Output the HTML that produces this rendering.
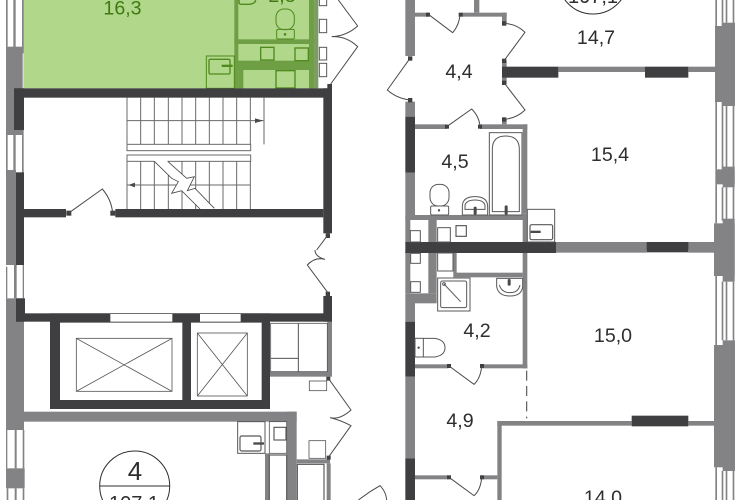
<!DOCTYPE html>
<html><head><meta charset="utf-8"><style>
html,body{margin:0;padding:0;background:#fff;width:741px;height:500px;overflow:hidden}
svg{display:block}
text{font-family:"Liberation Sans",sans-serif;font-size:19.6px;fill:#2e2e2e;text-anchor:middle}
.g{fill:#838386}.d{fill:#3f3f41}
.l{fill:none;stroke:#4a4a4c;stroke-width:3}
.t{fill:none;stroke:#4a4a4c;stroke-width:3.5}
.gl{fill:none;stroke:#4f8a1e;stroke-width:4}
</style></head><body>
<svg width="741" height="500" viewBox="0 0 741 500" xmlns="http://www.w3.org/2000/svg">
<!-- Group A -->
<g transform="scale(.33333)">
<rect x="70" y="0" width="880" height="265" fill="#b1d78b"/>
<g fill="#6f9f44">
<rect x="703" y="0" width="12" height="265"/><rect x="927" y="0" width="16" height="265"/>
<rect x="703" y="118" width="240" height="14"/><rect x="703" y="182" width="240" height="28"/>
<rect x="715" y="210" width="15" height="55"/>
</g>
<rect x="943" y="0" width="12" height="265" fill="#7f9a68"/>
<path class="gl" d="M717 0V6Q717 13 725 13H745Q765 13 767 0"/>
<rect class="gl" x="828" y="27" width="55" height="62" rx="24" style="stroke-width:3"/>
<rect class="gl" x="830" y="88" width="53" height="29" rx="4" style="stroke-width:3"/>
<circle cx="855" cy="103" r="4" fill="#4f8a1e"/>
<g class="gl" style="stroke-width:4"><rect x="782" y="142" width="40" height="38"/><rect x="885" y="144" width="40" height="38"/><rect x="828" y="212" width="57" height="52"/>
<rect x="619" y="168" width="84" height="97" style="stroke-width:3"/><rect x="627" y="178" width="63" height="44" rx="4"/></g>
<rect x="665" y="194" width="33" height="7" fill="#4f8a1e"/>
<g fill="#fff" stroke="#58585a" stroke-width="3"><rect x="958" y="-3" width="22" height="20"/><rect x="958" y="58" width="22" height="40"/><rect x="958" y="142" width="22" height="38"/><rect x="958" y="190" width="22" height="40"/></g>
<path class="l" d="M990 255L1073 140Q1040 108 995 110Q1040 108 1073 78L1015 0"/>
<!-- left wall -->
<rect class="g" x="18" y="140" width="50" height="265"/>
<rect class="g" x="18" y="0" width="5" height="140"/><rect class="g" x="40" y="0" width="7" height="160"/><rect class="g" x="66" y="0" width="5" height="160"/>
<rect class="g" x="18" y="405" width="5" height="105"/><rect class="g" x="40" y="390" width="7" height="130"/><rect class="g" x="66" y="390" width="5" height="130"/>
<rect class="g" x="18" y="510" width="30" height="240"/>
<g class="d">
<rect x="42" y="265" width="954" height="28"/><rect x="42" y="265" width="30" height="125"/>
<rect x="970" y="265" width="26" height="435"/><rect x="982" y="252" width="14" height="16"/>
<rect x="48" y="517" width="24" height="233"/>
<rect x="72" y="627" width="126" height="25"/><rect x="346" y="627" width="624" height="25"/>
<rect x="199" y="632" width="15" height="15"/><rect x="331" y="632" width="15" height="15"/><rect x="977" y="700" width="13" height="14"/>
</g>
<path class="l" d="M205 640L307 567Q335 600 338 640M982 707L950 750"/>
<!-- stairs -->
<g fill="none" stroke="#6a6a6c" stroke-width="3">
<path d="M381 293V435M422 293V433M463 293V433M505 293V433M546 293V433M587 293V433M628 293V433M669 293V433M710 293V433M751 293V433M792 293V433M381 362H790"/>
<rect x="381" y="433" width="371" height="19"/><rect x="381" y="465" width="371" height="19"/>
<path d="M381 484V627M422 484V627M463 484V627M505 484V627M546 484V627M587 484V627M628 484V627M669 484V627M710 484V627M751 484V627M381 555H751"/>
</g>
<path d="M790 362L765 355V369Z M385 555L405 548V562Z" fill="#4a4a4c"/>
<path d="M460 480L515 535L535 545L515 580L545 572L602 627L643 627L585 565L562 572L583 530L560 535L500 480Z" fill="#fff"/>
<path fill="none" stroke="#4a4a4c" stroke-width="2.5" d="M463 484L515 535L535 545L515 580L545 572L600 627M503 484L560 535L583 530L562 572L585 565L643 625"/>
</g>
<!-- Group C -->
<g transform="translate(0,250) scale(.33333)">
<g class="g"><rect x="18" y="145" width="54" height="395"/><rect x="72" y="485" width="818" height="30"/><rect x="860" y="485" width="30" height="265"/>
<rect x="795" y="610" width="13" height="140"/><rect x="890" y="628" width="100" height="12"/><rect x="982" y="215" width="14" height="160"/><rect x="810" y="365" width="186" height="15"/><rect x="980" y="640" width="12" height="110"/>
<rect x="18" y="655" width="56" height="60"/><rect x="18" y="540" width="4" height="115"/><rect x="44" y="540" width="6" height="115"/><rect x="68" y="540" width="5" height="115"/>
<rect x="18" y="50" width="4" height="95"/><rect x="18" y="0" width="30" height="45"/><rect x="42" y="45" width="8" height="100"/><rect x="68" y="45" width="4" height="100"/>
<rect x="20" y="715" width="5" height="35"/><rect x="44" y="715" width="6" height="35"/><rect x="68" y="715" width="5" height="35"/></g>
<g class="d"><rect x="48" y="0" width="24" height="45"/><rect x="48" y="145" width="27" height="70"/><rect x="48" y="190" width="948" height="25"/><rect x="970" y="138" width="26" height="77"/><rect x="977" y="125" width="13" height="14"/>
<path fill-rule="evenodd" d="M150 190H810V477H150ZM180 218V450H547V218ZM573 218V450H785V218Z"/>
<rect x="979" y="380" width="12" height="12"/><rect x="980" y="617" width="12" height="12"/></g>
<g fill="#fff"><rect x="331" y="192" width="186" height="23"/><rect x="600" y="192" width="122" height="23"/></g>
<g fill="none" stroke="#58585a" stroke-width="2.5">
<rect x="229" y="265" width="287" height="159"/><path d="M229 265L516 424M229 424L516 265"/>
<rect x="592" y="249" width="150" height="189"/><path d="M592 249L742 438M592 438L742 249"/>
<rect x="812" y="220" width="83" height="105"/><rect x="812" y="325" width="83" height="40"/><rect x="895" y="220" width="87" height="145"/>
<rect x="928" y="393" width="52" height="29"/>
<rect x="713" y="515" width="82" height="95" stroke-width="3"/><rect x="720" y="558" width="63" height="45" rx="5" stroke-width="3.5"/>
<rect x="808" y="515" width="52" height="95"/><rect x="822" y="532" width="36" height="38" stroke-width="3.5"/>
<rect x="808" y="615" width="52" height="140" stroke-width="3.5"/><rect x="927" y="572" width="50" height="53"/><rect x="892" y="643" width="80" height="110" stroke-width="3.5"/>
</g>
<rect x="760" y="577" width="32" height="7" fill="#4a4a4c"/>
<path class="l" d="M985 130L922 45Q945 20 975 28Q945 20 945 0M985 385L1053 480Q1020 510 990 503Q1020 510 1053 527L985 622M1075 750L1110 725"/>
</g>
<!-- Group B -->
<g transform="translate(370,0) scale(.33333)">
<g class="g"><rect x="106" y="0" width="29" height="168"/><rect x="106" y="305" width="29" height="45"/><rect x="106" y="518" width="29" height="142"/>
<rect x="135" y="38" width="40" height="12"/><rect x="275" y="38" width="135" height="12"/><rect x="312" y="0" width="16" height="38"/><rect x="396" y="38" width="14" height="32"/>
<rect x="396" y="182" width="14" height="70"/><rect x="565" y="200" width="260" height="16"/><rect x="955" y="200" width="85" height="16"/>
<rect x="135" y="373" width="95" height="14"/><rect x="330" y="373" width="142" height="14"/><rect x="458" y="373" width="14" height="267"/><rect x="396" y="358" width="14" height="15"/>
<rect x="106" y="645" width="366" height="15"/><rect x="175" y="660" width="25" height="70"/><rect x="458" y="640" width="14" height="90"/>
<rect x="558" y="726" width="480" height="24"/><rect x="106" y="660" width="15" height="70"/></g>
<g class="d"><rect x="396" y="200" width="169" height="33"/><rect x="825" y="200" width="130" height="33"/><rect x="106" y="350" width="29" height="168"/>
<rect x="106" y="726" width="452" height="24"/><rect x="830" y="726" width="125" height="24"/>
<rect x="168" y="38" width="12" height="12"/><rect x="266" y="38" width="12" height="12"/><rect x="396" y="64" width="13" height="13"/><rect x="396" y="176" width="13" height="13"/><rect x="114" y="169" width="13" height="13"/><rect x="114" y="294" width="13" height="13"/><rect x="396" y="242" width="13" height="13"/><rect x="396" y="352" width="13" height="13"/><rect x="225" y="374" width="12" height="12"/><rect x="324" y="374" width="12" height="12"/></g>
<path class="l" d="M175 43L248 98Q268 75 270 43M402 70Q440 72 465 97L402 182M120 175L52 270Q80 295 120 300M402 248L465 330Q440 355 402 358M230 380L305 327Q328 350 330 380"/>
<g fill="none" stroke="#58585a" stroke-width="3">
<rect x="358" y="398" width="98" height="247"/><path d="M367 635V448Q367 408 407 408Q448 408 448 448V635Z"/>
<rect x="180" y="553" width="57" height="65" rx="25"/><rect x="182" y="618" width="54" height="27" rx="4"/>
<path d="M277 645V620Q277 590 315 590Q353 590 353 620V645ZM285 628V615Q290 600 315 600Q340 600 345 615V628Z"/>
<rect x="472" y="628" width="82" height="98"/><rect x="480" y="674" width="68" height="45" rx="5" stroke-width="3.5"/>
<rect x="121" y="692" width="30" height="34"/><rect x="203" y="683" width="38" height="43"/><rect x="258" y="677" width="31" height="32" stroke-width="3.5"/>
</g>
<circle cx="207" cy="631" r="3.5" fill="#4a4a4c"/><rect x="311" y="620" width="9" height="24" rx="4" fill="#4a4a4c"/><rect x="404" y="616" width="9" height="28" rx="4" fill="#4a4a4c"/><rect x="482" y="692" width="30" height="7" fill="#4a4a4c"/>
</g>
<!-- Group D -->
<g transform="translate(370,250) scale(.33333)">
<g class="g"><rect x="106" y="0" width="15" height="130"/><rect x="106" y="130" width="29" height="85"/><rect x="106" y="380" width="29" height="245"/><rect x="135" y="130" width="65" height="30"/><rect x="175" y="0" width="25" height="130"/><rect x="458" y="0" width="14" height="355"/>
<rect x="135" y="343" width="100" height="12"/><rect x="335" y="343" width="137" height="12"/><rect x="250" y="0" width="10" height="70"/><rect x="250" y="68" width="208" height="14"/>
<rect x="382" y="513" width="13" height="237"/><rect x="382" y="513" width="403" height="14"/><rect x="955" y="513" width="82" height="14"/>
<rect x="135" y="676" width="100" height="12"/><rect x="335" y="676" width="47" height="12"/></g>
<g class="d"><rect x="106" y="215" width="29" height="165"/><rect x="106" y="625" width="29" height="125"/><rect x="106" y="0" width="452" height="9"/><rect x="830" y="0" width="125" height="7"/><rect x="785" y="497" width="170" height="32"/>
<rect x="231" y="342" width="12" height="12"/><rect x="330" y="342" width="12" height="12"/><rect x="231" y="676" width="12" height="12"/><rect x="330" y="676" width="12" height="12"/></g>
<rect x="558" y="0" width="272" height="8" class="g"/><rect x="955" y="0" width="80" height="8" class="g"/>
<path class="l" d="M237 348L312 403Q332 385 335 348M237 682L312 737Q332 720 335 682M0 725L30 707Q48 725 50 750"/>
<path d="M470 362V505" fill="none" stroke="#58585a" stroke-width="3.5" stroke-dasharray="30 16"/>
<g fill="none" stroke="#58585a" stroke-width="3">
<rect x="122" y="10" width="29" height="30"/><rect x="122" y="95" width="29" height="32"/><rect x="203" y="9" width="46" height="54"/>
<rect x="203" y="84" width="97" height="99"/><rect x="212" y="93" width="78" height="80" rx="5"/><path d="M222 102L272 155"/><circle cx="222" cy="102" r="4"/>
<path d="M380 85V110Q385 138 420 138Q455 138 458 110V85ZM388 105Q395 128 420 128Q445 128 450 105"/>
<rect x="135" y="265" width="25" height="56"/><path d="M160 265H195Q225 270 225 293Q225 316 195 321H160"/>
</g>
<circle cx="146" cy="293" r="3.5" fill="#4a4a4c"/><rect x="413" y="87" width="9" height="20" rx="4" fill="#4a4a4c"/>
</g>
<!-- Right edge -->
<g transform="translate(640,0) scale(.33333)">
<rect class="g" x="225" y="78" width="60" height="228"/><rect class="g" x="245" y="68" width="40" height="250"/>
<g class="g"><rect x="226" y="0" width="5" height="78"/><rect x="245" y="0" width="5" height="68"/><rect x="257" y="0" width="5" height="68"/><rect x="278" y="0" width="5" height="68"/>
<rect x="226" y="306" width="5" height="202"/><rect x="245" y="318" width="5" height="190"/><rect x="257" y="318" width="5" height="190"/><rect x="278" y="318" width="5" height="190"/>
<rect x="226" y="508" width="58" height="45"/><rect x="248" y="500" width="36" height="62"/>
<rect x="226" y="553" width="5" height="117"/><rect x="245" y="562" width="5" height="100"/><rect x="257" y="562" width="5" height="100"/><rect x="278" y="562" width="5" height="100"/>
<rect x="222" y="670" width="62" height="80"/><rect x="248" y="656" width="36" height="94"/></g>
</g>
<g transform="translate(640,250) scale(.33333)">
<g class="g"><rect x="222" y="0" width="62" height="78"/><rect x="248" y="0" width="36" height="95"/>
<rect x="226" y="78" width="5" height="207"/><rect x="245" y="95" width="5" height="176"/><rect x="257" y="95" width="5" height="176"/><rect x="278" y="95" width="5" height="176"/>
<rect x="222" y="285" width="63" height="367"/><rect x="248" y="271" width="37" height="392"/>
<rect x="226" y="652" width="5" height="98"/><rect x="245" y="663" width="5" height="87"/><rect x="257" y="663" width="5" height="87"/><rect x="278" y="663" width="5" height="87"/></g>
</g>
<!-- Circles -->
<g fill="none" stroke="#2e2e2e" stroke-width="1">
<circle cx="134.7" cy="486" r="35"/><path d="M100 486H170"/>
<circle cx="593" cy="-21" r="35"/>
</g>
<text x="135" y="480" style="font-size:26px">4</text>
<text x="134" y="510" style="font-size:20px">107,1</text>
<text x="593" y="3" style="font-size:20px">107,1</text>
<text x="122.5" y="14.5" style="fill:#3f7a10">16,3</text>
<text x="282" y="2" style="fill:#3f7a10">2,8</text>
<text x="596" y="44">14,7</text>
<text x="459" y="78">4,4</text>
<text x="610" y="161">15,4</text>
<text x="455" y="168">4,5</text>
<text x="477" y="337">4,2</text>
<text x="613" y="342">15,0</text>
<text x="460" y="427">4,9</text>
<text x="603" y="504">14,0</text>
</svg>
</body></html>
